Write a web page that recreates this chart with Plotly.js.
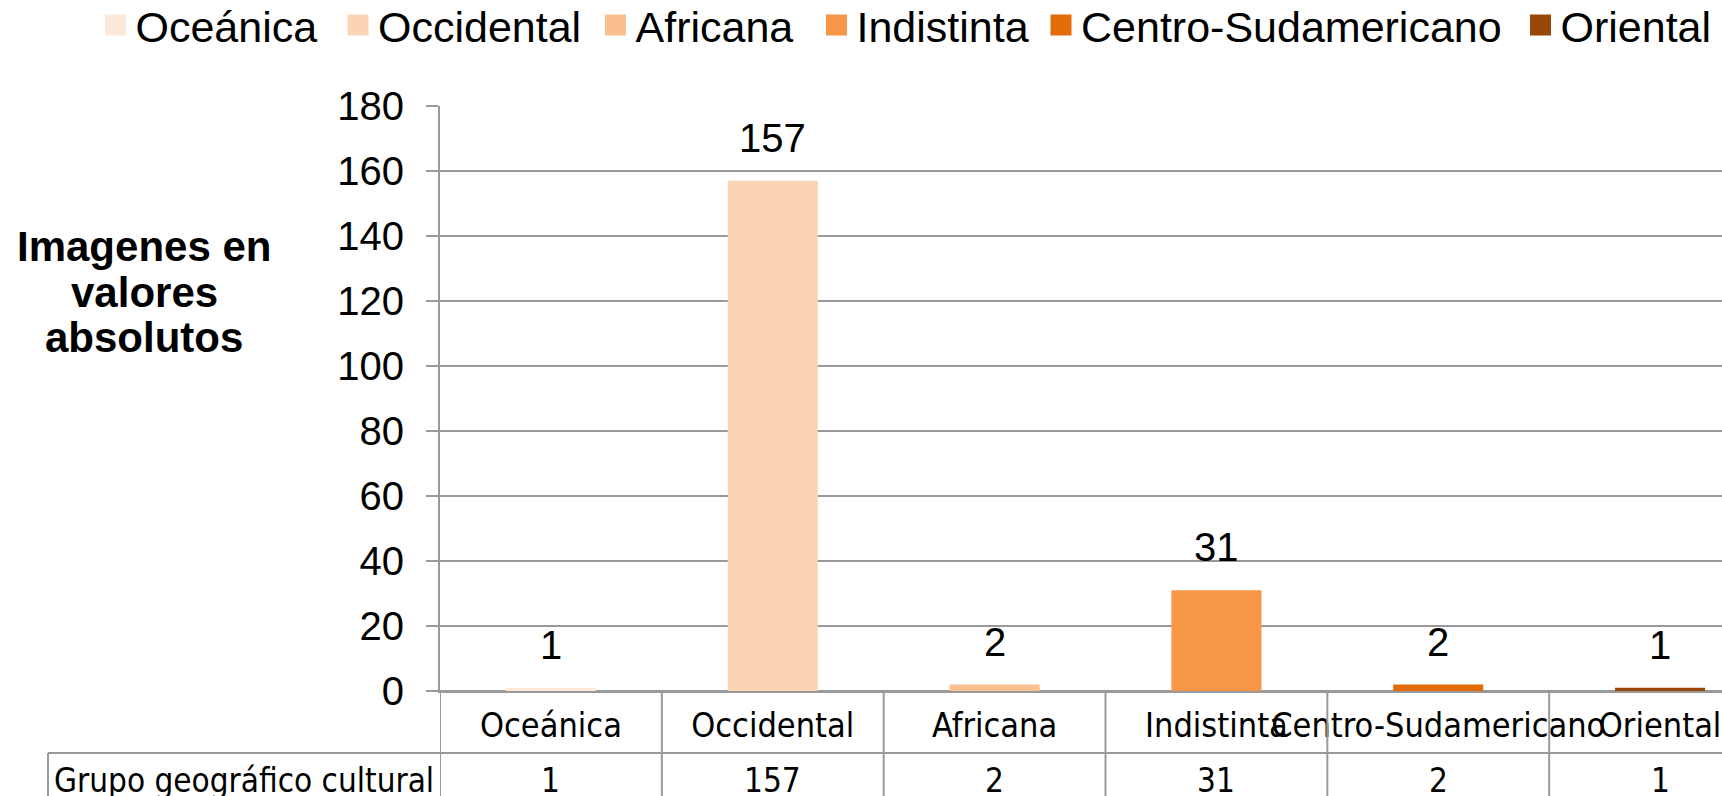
<!DOCTYPE html>
<html>
<head>
<meta charset="utf-8">
<script src="https://cdn.plot.ly/plotly-3.0.1.min.js"></script>
<style>
html, body { margin:0; padding:0; overflow:hidden; background:#fff; }
#chart { width:1780px; height:796px; }
</style>
</head>
<body>
<div id="chart"></div>
<script>
// ---- data ----
const categories = ['Oceánica', 'Occidental', 'Africana', 'Indistinta', 'Centro-Sudamericano', 'Oriental'];
const values = [1, 157, 2, 31, 2, 1];
const colors = ['#FDE9D9', '#FBD4B4', '#FABF8F', '#F79646', '#E36C09', '#974806'];
const yTickVals = [0, 20, 40, 60, 80, 100, 120, 140, 160, 180];
const rowLabel = 'Grupo geográfico cultural';
const yTitleLines = ['Imagenes en', 'valores', 'absolutos'];

// ---- layout constants (pixels) ----
const W = 1780, H = 796;
const mL = 440, mR = 9, mT = 106, mB = 105;
const plotW = W - mL - mR, plotH = H - mT - mB;
const px2paperX = px => (px - mL) / plotW;
const px2paperY = py => (H - mB - py) / plotH;

const grid = '#999999';
const mainFont = "'Liberation Sans', Arial, sans-serif";
const narrowFont = "'DejaVu Sans Condensed', 'Liberation Sans Narrow', sans-serif";

// legend square centres (px) for the six legend boxes
const legendCentersPx = [115.5, 358, 615.5, 836.5, 1061, 1540.5];

const traces = [];
categories.forEach((c, i) => {
  traces.push({
    type: 'bar', x: [c], y: [values[i]], name: c, width: 0.406,
    marker: { color: colors[i], line: { width: 0 } },
    showlegend: false, hoverinfo: 'x+y'
  });
});
categories.forEach((c, i) => {
  traces.push({
    type: 'scatter', mode: 'markers', x: [c], y: [null], name: c,
    marker: { symbol: 'square', size: 16, color: colors[i], line: { color: colors[i], width: 5 } },
    showlegend: true, hoverinfo: 'skip',
    legend: i === 0 ? 'legend' : 'legend' + (i + 1)
  });
});

const annotations = [];
categories.forEach((c, i) => {
  annotations.push({
    x: c, y: values[i], xref: 'x', yref: 'y',
    text: String(values[i]), showarrow: false,
    yanchor: 'bottom', yshift: 19,
    font: { family: mainFont, size: 40, color: '#000' }
  });
});
const rowY = px2paperY(780);
categories.forEach((c, i) => {
  annotations.push({
    x: c, y: rowY, xref: 'x', yref: 'paper',
    text: String(values[i]), showarrow: false,
    xanchor: 'center', yanchor: 'middle',
    font: { family: narrowFont, size: 33, color: '#000' }
  });
});
annotations.push({
  x: px2paperX(52), y: rowY, xref: 'paper', yref: 'paper',
  text: rowLabel, showarrow: false, xanchor: 'left', yanchor: 'middle',
  font: { family: narrowFont, size: 33, color: '#000' }
});
const titleLineY = [246, 292, 337];
yTitleLines.forEach((t, k) => {
  annotations.push({
    x: px2paperX(144), y: px2paperY(titleLineY[k]), xref: 'paper', yref: 'paper',
    text: '<b>' + t + '</b>', showarrow: false,
    xanchor: 'center', yanchor: 'middle',
    font: { family: mainFont, size: 42, color: '#000' }
  });
});

const shapes = [];
const rowLine = px2paperY(753), tableBottom = px2paperY(830);
for (let k = 0; k <= categories.length; k++) {
  shapes.push({
    type: 'line', xref: 'x', yref: 'paper',
    x0: k - 0.5, x1: k - 0.5, y0: 0, y1: tableBottom,
    line: { color: grid, width: 2 }
  });
}
shapes.push({
  type: 'line', xref: 'paper', yref: 'paper',
  x0: px2paperX(48), x1: 1.05, y0: rowLine, y1: rowLine,
  line: { color: grid, width: 2 }
});
shapes.push({
  type: 'line', xref: 'paper', yref: 'paper',
  x0: px2paperX(48), x1: px2paperX(48), y0: rowLine, y1: tableBottom,
  line: { color: grid, width: 2 }
});

const layout = {
  width: W, height: H,
  margin: { l: mL, r: mR, t: mT, b: mB, pad: 0, autoexpand: false },
  paper_bgcolor: '#fff', plot_bgcolor: '#fff',
  barmode: 'overlay',
  showlegend: true,
  xaxis: {
    type: 'category', categoryorder: 'array', categoryarray: categories,
    range: [-0.5, categories.length - 0.5],
    tickangle: 0, ticks: '', showgrid: false, zeroline: false,
    showline: true, linecolor: grid, linewidth: 2,
    ticklabelstandoff: 3,
    tickfont: { family: narrowFont, size: 34, color: '#000' },
    automargin: false, fixedrange: true
  },
  yaxis: {
    range: [0, 180], tickvals: yTickVals, ticktext: yTickVals.map(String),
    ticks: 'outside', ticklen: 12, tickwidth: 2, tickcolor: grid,
    showgrid: true, gridcolor: grid, gridwidth: 2,
    zeroline: true, zerolinecolor: grid, zerolinewidth: 2,
    showline: true, linecolor: grid, linewidth: 2,
    ticklabelstandoff: 14,
    tickfont: { family: mainFont, size: 40, color: '#000' },
    automargin: false, fixedrange: true
  },
  annotations: annotations,
  shapes: shapes
};
legendCentersPx.forEach((cx, i) => {
  const key = i === 0 ? 'legend' : 'legend' + (i + 1);
  layout[key] = {
    orientation: 'h', x: px2paperX(cx - 20), xanchor: 'left',
    y: px2paperY(25), yanchor: 'middle',
    font: { family: mainFont, size: 43, color: '#000' },
    itemwidth: 30, bgcolor: 'rgba(0,0,0,0)', borderwidth: 0
  };
});

Plotly.newPlot('chart', traces, layout, { displayModeBar: false, staticPlot: true });
</script>
</body>
</html>
